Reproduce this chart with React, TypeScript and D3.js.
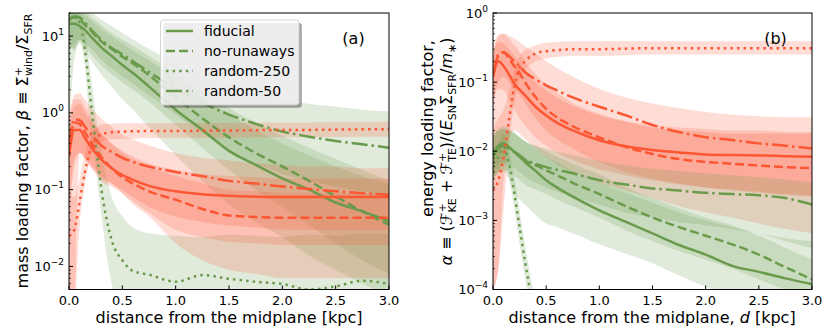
import React from 'react';
import * as d3 from 'd3';

// distance from the midplane [kpc]
const DIST = [0, 0.05, 0.1, 0.15, 0.2, 0.25, 0.3, 0.4, 0.5, 0.6, 0.75, 1.0, 1.25, 1.5, 1.75, 2.0, 2.25, 2.5, 2.75, 3.0];
const X_TICKS = [0, 0.5, 1, 1.5, 2, 2.5, 3];
const X_TICK_LABELS = ['0.0', '0.5', '1.0', '1.5', '2.0', '2.5', '3.0'];
const MODELS = ['fiducial', 'no-runaways', 'random-250', 'random-50'];
const A_Y_EXPS = [-2, -1, 0, 1];
const B_Y_EXPS = [-4, -3, -2, -1, 0];

// ---- (a) mass loading, cool (green)
const aCoolFid = [14.5, 14.5, 13.5, 12, 10, 8.5, 7.2, 5.5, 4.2, 3.3, 2.2, 1.1, 0.6, 0.32, 0.21, 0.14, 0.1, 0.068, 0.052, 0.039];
const aCoolFidLo = [8, 6.5, 8.5, 6.5, 5, 4, 3.2, 2.2, 1.5, 1.1, 0.65, 0.28, 0.13, 0.065, 0.038, 0.024, 0.014, 0.009, 0.006, 0.004];
const aCoolFidHi = [20, 22, 21, 19, 16.5, 14.5, 12.5, 10, 8, 6.5, 4.8, 2.8, 1.6, 0.95, 0.6, 0.4, 0.28, 0.2, 0.15, 0.12];
const aCoolNoRun = [17, 17.6, 16.5, 14, 12, 10, 8.6, 6.8, 5.4, 4.4, 3.1, 1.6, 0.85, 0.48, 0.3, 0.2, 0.13, 0.082, 0.052, 0.035];
const aCoolNoRunLo = [7, 7, 9, 7.5, 6, 5, 4.2, 3.2, 2.5, 2, 1.4, 0.7, 0.35, 0.18, 0.1, 0.06, 0.035, 0.02, 0.012, 0.008];
const aCoolNoRunHi = [23, 24, 23, 21, 18, 16, 14, 11, 9, 7.5, 5.5, 3.2, 1.9, 1.15, 0.75, 0.5, 0.35, 0.25, 0.18, 0.13];
const aCoolR250 = [16, 18, 15, 6.5, 1.6, 0.4, 0.11, 0.022, 0.012, 0.0087, 0.0078, 0.0063, 0.0077, 0.0069, 0.0063, 0.0059, 0.005, 0.0055, 0.0065, 0.0059];
const aCoolR250Lo = [0.5, 5, 8, 4, 0.6, 0.2, 0.05, 0.006, 0.003, 0.003, 0.003, 0.003, 0.003, 0.003, 0.003, 0.003, 0.003, 0.003, 0.003, 0.003];
const aCoolR250Hi = [20, 22, 20, 12, 3.5, 1, 0.35, 0.08, 0.045, 0.032, 0.027, 0.025, 0.024, 0.026, 0.025, 0.024, 0.026, 0.025, 0.027, 0.026];
const aCoolR50 = [16, 18, 17.5, 15, 12.5, 10.5, 9, 7, 5.8, 4.7, 3.4, 2.1, 1.35, 0.95, 0.72, 0.57, 0.49, 0.43, 0.39, 0.35];
const aCoolR50Lo = [7, 8, 9, 8, 7, 6, 5, 3.8, 3, 2.4, 1.7, 0.95, 0.55, 0.33, 0.22, 0.16, 0.13, 0.11, 0.095, 0.085];
const aCoolR50Hi = [24, 26, 26, 24, 21, 18.5, 16.5, 13.5, 11, 9, 6.8, 4.5, 3.1, 2.3, 1.8, 1.5, 1.3, 1.2, 1.1, 1.05];

// ---- (a) mass loading, hot (red)
const aHotFid = [0.27, 0.6, 0.6, 0.47, 0.37, 0.3, 0.25, 0.19, 0.155, 0.134, 0.112, 0.095, 0.087, 0.083, 0.081, 0.08, 0.08, 0.08, 0.08, 0.08];
const aHotFidLo = [0.05, 0.2, 0.3, 0.25, 0.2, 0.17, 0.14, 0.12, 0.1, 0.08, 0.06, 0.045, 0.038, 0.034, 0.032, 0.03, 0.03, 0.03, 0.03, 0.03];
const aHotFidHi = [0.6, 1.2, 1.3, 1.0, 0.8, 0.65, 0.53, 0.4, 0.32, 0.27, 0.22, 0.18, 0.16, 0.15, 0.145, 0.14, 0.14, 0.14, 0.14, 0.14];
const aHotNoRun = [0.35, 0.75, 0.72, 0.56, 0.43, 0.34, 0.27, 0.19, 0.145, 0.12, 0.095, 0.074, 0.056, 0.046, 0.044, 0.043, 0.043, 0.043, 0.043, 0.043];
const aHotNoRunLo = [0.06, 0.25, 0.3, 0.25, 0.2, 0.16, 0.13, 0.11, 0.09, 0.07, 0.05, 0.03, 0.024, 0.021, 0.02, 0.019, 0.019, 0.019, 0.019, 0.019];
const aHotNoRunHi = [0.8, 1.5, 1.5, 1.2, 0.9, 0.7, 0.55, 0.4, 0.3, 0.25, 0.2, 0.15, 0.12, 0.1, 0.095, 0.09, 0.09, 0.09, 0.09, 0.09];
const aHotR250 = [0.025, 0.03, 0.07, 0.17, 0.33, 0.45, 0.52, 0.56, 0.57, 0.575, 0.58, 0.58, 0.585, 0.59, 0.595, 0.6, 0.6, 0.605, 0.61, 0.61];
const aHotR250Lo = [0.002, 0.003, 0.035, 0.12, 0.25, 0.36, 0.42, 0.45, 0.46, 0.46, 0.47, 0.47, 0.47, 0.475, 0.48, 0.48, 0.48, 0.485, 0.49, 0.49];
const aHotR250Hi = [0.1, 0.08, 0.14, 0.3, 0.5, 0.62, 0.7, 0.72, 0.73, 0.73, 0.73, 0.73, 0.74, 0.74, 0.75, 0.75, 0.75, 0.76, 0.76, 0.77];
const aHotR50 = [0.4, 0.82, 0.8, 0.66, 0.54, 0.45, 0.38, 0.31, 0.26, 0.23, 0.2, 0.17, 0.15, 0.13, 0.12, 0.11, 0.102, 0.095, 0.09, 0.086];
const aHotR50Lo = [0.003, 0.004, 0.3, 0.28, 0.22, 0.18, 0.15, 0.12, 0.09, 0.065, 0.045, 0.02, 0.012, 0.009, 0.008, 0.007, 0.007, 0.007, 0.007, 0.007];
const aHotR50Hi = [0.9, 1.7, 1.8, 1.5, 1.2, 1.0, 0.85, 0.65, 0.52, 0.45, 0.38, 0.3, 0.26, 0.24, 0.22, 0.21, 0.2, 0.2, 0.19, 0.19];

// ---- (b) energy loading, hot (red)
const bHotFid = [0.12, 0.2, 0.17, 0.13, 0.095, 0.078, 0.065, 0.044, 0.033, 0.026, 0.02, 0.0144, 0.0118, 0.0104, 0.0096, 0.009, 0.0088, 0.0087, 0.0085, 0.0083];
const bHotFidLo = [0.05, 0.08, 0.076, 0.055, 0.04, 0.03, 0.024, 0.016, 0.012, 0.0095, 0.0075, 0.0055, 0.0045, 0.0038, 0.0033, 0.003, 0.0027, 0.0025, 0.0023, 0.0022];
const bHotFidHi = [0.25, 0.38, 0.36, 0.3, 0.24, 0.19, 0.15, 0.1, 0.075, 0.06, 0.045, 0.033, 0.027, 0.024, 0.022, 0.021, 0.02, 0.02, 0.019, 0.019];
const bHotNoRun = [0.12, 0.24, 0.27, 0.22, 0.17, 0.135, 0.1, 0.061, 0.041, 0.031, 0.023, 0.0158, 0.0115, 0.0091, 0.0077, 0.007, 0.0066, 0.0062, 0.0059, 0.0057];
const bHotNoRunLo = [0.05, 0.1, 0.12, 0.1, 0.08, 0.065, 0.05, 0.03, 0.02, 0.015, 0.011, 0.007, 0.005, 0.004, 0.0034, 0.003, 0.0028, 0.0026, 0.0024, 0.0023];
const bHotNoRunHi = [0.25, 0.45, 0.5, 0.42, 0.34, 0.27, 0.2, 0.13, 0.09, 0.07, 0.05, 0.035, 0.027, 0.022, 0.02, 0.019, 0.018, 0.018, 0.018, 0.018];
const bHotR250 = [0.0027, 0.0038, 0.0083, 0.028, 0.085, 0.16, 0.2, 0.26, 0.28, 0.29, 0.3, 0.3, 0.305, 0.31, 0.31, 0.31, 0.31, 0.31, 0.31, 0.31];
const bHotR250Lo = [0.0001, 0.0002, 0.0015, 0.012, 0.05, 0.11, 0.15, 0.2, 0.22, 0.23, 0.24, 0.24, 0.245, 0.25, 0.25, 0.25, 0.25, 0.25, 0.25, 0.25];
const bHotR250Hi = [0.02, 0.03, 0.04, 0.07, 0.15, 0.24, 0.29, 0.34, 0.37, 0.38, 0.39, 0.39, 0.39, 0.39, 0.39, 0.39, 0.39, 0.39, 0.39, 0.39];
const bHotR50 = [0.12, 0.25, 0.27, 0.24, 0.2, 0.17, 0.14, 0.11, 0.09, 0.076, 0.06, 0.044, 0.033, 0.024, 0.019, 0.016, 0.0145, 0.013, 0.012, 0.011];
const bHotR50Lo = [0.0001, 0.0002, 0.004, 0.015, 0.02, 0.018, 0.015, 0.011, 0.0083, 0.0065, 0.005, 0.0035, 0.0027, 0.0021, 0.0016, 0.0013, 0.0011, 0.0009, 0.00075, 0.00065];
const bHotR50Hi = [0.35, 0.48, 0.5, 0.47, 0.43, 0.38, 0.33, 0.26, 0.2, 0.16, 0.12, 0.08, 0.06, 0.049, 0.042, 0.037, 0.034, 0.032, 0.031, 0.031];

// ---- (b) energy loading, cool (green)
const bCoolFid = [0.0093, 0.012, 0.013, 0.0115, 0.0098, 0.0083, 0.007, 0.0052, 0.0038, 0.003, 0.0022, 0.0014, 0.00095, 0.00065, 0.00044, 0.00032, 0.00022, 0.00018, 0.000145, 0.00012];
const bCoolFidLo = [0.004, 0.005, 0.005, 0.004, 0.0025, 0.002, 0.0017, 0.0012, 0.0009, 0.0008, 0.00065, 0.00045, 0.00033, 0.00024, 0.00016, 0.00011, 0.00008, 0.00006, 0.00005, 0.00004];
const bCoolFidHi = [0.016, 0.02, 0.021, 0.02, 0.018, 0.016, 0.014, 0.011, 0.0085, 0.007, 0.0052, 0.0035, 0.0025, 0.0018, 0.0013, 0.001, 0.0008, 0.00065, 0.00055, 0.0005];
const bCoolNoRun = [0.0085, 0.011, 0.012, 0.011, 0.0098, 0.0086, 0.0074, 0.0063, 0.0053, 0.0045, 0.0035, 0.0024, 0.0016, 0.0011, 0.0008, 0.0006, 0.00045, 0.00032, 0.00021, 0.00014];
const bCoolNoRunLo = [0.0038, 0.005, 0.0054, 0.005, 0.0044, 0.0039, 0.0033, 0.0028, 0.0024, 0.002, 0.0016, 0.0011, 0.00072, 0.0005, 0.00036, 0.00027, 0.0002, 0.00014, 0.0001, 0.00007];
const bCoolNoRunHi = [0.016, 0.021, 0.023, 0.021, 0.019, 0.016, 0.014, 0.012, 0.01, 0.0085, 0.0066, 0.0046, 0.003, 0.0021, 0.0015, 0.0011, 0.00085, 0.0006, 0.0004, 0.00027];
const bCoolR250 = [0.0066, 0.0083, 0.0115, 0.0066, 0.0025, 0.0008, 0.00026, 0.00004, 0.00001, 0.00001, 0.00001, 0.00001, 0.00001, 0.00001, 0.00001, 0.00001, 0.00001, 0.00001, 0.00001, 0.00001];
const bCoolR250Lo = [0.004, 0.005, 0.007, 0.004, 0.0015, 0.00045, 0.00015, 0.00002, 0.000005, 0.000005, 0.000005, 0.000005, 0.000005, 0.000005, 0.000005, 0.000005, 0.000005, 0.000005, 0.000005, 0.000005];
const bCoolR250Hi = [0.011, 0.013, 0.018, 0.011, 0.0042, 0.0014, 0.00045, 0.00007, 0.00002, 0.00002, 0.00002, 0.00002, 0.00002, 0.00002, 0.00002, 0.00002, 0.00002, 0.00002, 0.00002, 0.00002];
const bCoolR50 = [0.0085, 0.011, 0.012, 0.011, 0.0098, 0.0088, 0.0076, 0.0066, 0.0059, 0.0054, 0.0048, 0.0038, 0.0033, 0.0029, 0.0027, 0.0025, 0.0024, 0.0023, 0.0021, 0.0017];
const bCoolR50Lo = [0.005, 0.0065, 0.007, 0.0065, 0.0058, 0.005, 0.0043, 0.0035, 0.003, 0.0026, 0.0022, 0.0017, 0.0013, 0.0011, 0.00095, 0.00085, 0.00075, 0.00065, 0.0005, 0.0004];
const bCoolR50Hi = [0.017, 0.02, 0.021, 0.02, 0.018, 0.016, 0.014, 0.012, 0.011, 0.0098, 0.0088, 0.0072, 0.0062, 0.0056, 0.0052, 0.0048, 0.0045, 0.0042, 0.0039, 0.0035];

const GREEN = '#6a9a4b';
const RED = '#fc5633';
const FONT = "'DejaVu Sans', sans-serif";
const DASHES: (string | undefined)[] = [undefined, '9,4', '2.5,4.1', '16,4,2.5,4'];

type Band = { lo: number[]; hi: number[]; color: string };
type Series = { values: number[]; color: string; dash?: string };

interface PanelProps {
  id: string;
  left: number; right: number; top: number; bottom: number;
  yDomain: [number, number];
  yExps: number[];
  bands: Band[];
  series: Series[];
}

function Panel(p: PanelProps) {
  const x = d3.scaleLinear().domain([0, 3]).range([p.left, p.right]);
  const y = d3.scaleLog().domain(p.yDomain).range([p.bottom, p.top]);
  const line = d3.line<number>().x((_, i) => x(DIST[i])).y((d) => y(d)).curve(d3.curveMonotoneX);
  const area = (b: Band) =>
    d3.area<number>()
      .x((_, i) => x(DIST[i]))
      .y0((_, i) => y(b.lo[i]))
      .y1((_, i) => y(b.hi[i]))
      .curve(d3.curveMonotoneX)(b.lo as number[]) || '';
  const minors: number[] = [];
  const e0 = Math.floor(Math.log10(p.yDomain[0]));
  const e1 = Math.ceil(Math.log10(p.yDomain[1]));
  for (let e = e0; e <= e1; e++) {
    for (let m = 2; m <= 9; m++) {
      const v = m * Math.pow(10, e);
      if (v >= p.yDomain[0] && v <= p.yDomain[1]) minors.push(v);
    }
  }
  return (
    <g>
      <defs>
        <clipPath id={p.id}>
          <rect x={p.left} y={p.top} width={p.right - p.left} height={p.bottom - p.top} />
        </clipPath>
      </defs>
      <g clipPath={`url(#${p.id})`}>
        {p.bands.map((b, i) => (
          <path key={'b' + i} d={area(b)} fill={b.color} fillOpacity={0.2} stroke="none" />
        ))}
        {p.series.map((s, i) => (
          <path key={'s' + i} d={line(s.values) || ''} fill="none" stroke={s.color}
            strokeWidth={2.5} strokeDasharray={s.dash} strokeLinejoin="round" />
        ))}
      </g>
      <rect x={p.left} y={p.top} width={p.right - p.left} height={p.bottom - p.top}
        fill="none" stroke="#000" strokeWidth={1} />
      {X_TICKS.map((t, i) => (
        <g key={'xt' + i}>
          <line x1={x(t)} x2={x(t)} y1={p.bottom} y2={p.bottom - 4} stroke="#000" strokeWidth={1} />
          <text x={x(t)} y={305} textAnchor="middle" fontSize={13} fontFamily={FONT}>{X_TICK_LABELS[i]}</text>
        </g>
      ))}
      {minors.map((v, i) => (
        <line key={'mn' + i} x1={p.left} x2={p.left + 2} y1={y(v)} y2={y(v)} stroke="#000" strokeWidth={0.7} />
      ))}
      {p.yExps.map((e, i) => {
        const yy = y(Math.pow(10, e));
        return (
          <g key={'yt' + i}>
            <line x1={p.left} x2={p.left + 4} y1={yy} y2={yy} stroke="#000" strokeWidth={1} />
            <text x={p.left - 5} y={yy + 4.5} textAnchor="end" fontSize={13} fontFamily={FONT}>
              10<tspan dy={-6} fontSize={9}>{e < 0 ? '\u2212' + Math.abs(e) : String(e)}</tspan>
            </text>
          </g>
        );
      })}
    </g>
  );
}

export default function App() {
  const aBands: Band[] = [
    { lo: aCoolR50Lo, hi: aCoolR50Hi, color: GREEN },
    { lo: aCoolNoRunLo, hi: aCoolNoRunHi, color: GREEN },
    { lo: aCoolFidLo, hi: aCoolFidHi, color: GREEN },
    { lo: aCoolR250Lo, hi: aCoolR250Hi, color: GREEN },
    { lo: aHotR50Lo, hi: aHotR50Hi, color: RED },
    { lo: aHotNoRunLo, hi: aHotNoRunHi, color: RED },
    { lo: aHotFidLo, hi: aHotFidHi, color: RED },
    { lo: aHotR250Lo, hi: aHotR250Hi, color: RED },
  ];
  const aSeries: Series[] = [
    { values: aCoolFid, color: GREEN, dash: DASHES[0] },
    { values: aCoolNoRun, color: GREEN, dash: DASHES[1] },
    { values: aCoolR250, color: GREEN, dash: DASHES[2] },
    { values: aCoolR50, color: GREEN, dash: DASHES[3] },
    { values: aHotFid, color: RED, dash: DASHES[0] },
    { values: aHotNoRun, color: RED, dash: DASHES[1] },
    { values: aHotR250, color: RED, dash: DASHES[2] },
    { values: aHotR50, color: RED, dash: DASHES[3] },
  ];
  const bBands: Band[] = [
    { lo: bHotR50Lo, hi: bHotR50Hi, color: RED },
    { lo: bHotNoRunLo, hi: bHotNoRunHi, color: RED },
    { lo: bHotFidLo, hi: bHotFidHi, color: RED },
    { lo: bHotR250Lo, hi: bHotR250Hi, color: RED },
    { lo: bCoolR50Lo, hi: bCoolR50Hi, color: GREEN },
    { lo: bCoolNoRunLo, hi: bCoolNoRunHi, color: GREEN },
    { lo: bCoolFidLo, hi: bCoolFidHi, color: GREEN },
    { lo: bCoolR250Lo, hi: bCoolR250Hi, color: GREEN },
  ];
  const bSeries: Series[] = [
    { values: bCoolFid, color: GREEN, dash: DASHES[0] },
    { values: bCoolNoRun, color: GREEN, dash: DASHES[1] },
    { values: bCoolR250, color: GREEN, dash: DASHES[2] },
    { values: bCoolR50, color: GREEN, dash: DASHES[3] },
    { values: bHotFid, color: RED, dash: DASHES[0] },
    { values: bHotNoRun, color: RED, dash: DASHES[1] },
    { values: bHotR250, color: RED, dash: DASHES[2] },
    { values: bHotR50, color: RED, dash: DASHES[3] },
  ];
  const legX = 160.5, legY = 20, legW = 138.5, legH = 85;
  return (
    <svg width={830} height={335} style={{ position: 'absolute', left: 0, top: 0, background: '#fff' }}
      fontFamily={FONT}>
      <Panel id="clipA" left={69} right={389} top={13} bottom={289.5} yDomain={[0.005, 20]}
        yExps={A_Y_EXPS} bands={aBands} series={aSeries} />
      <Panel id="clipB" left={493} right={812} top={13} bottom={289.5} yDomain={[1e-4, 1]}
        yExps={B_Y_EXPS} bands={bBands} series={bSeries} />

      {/* legend */}
      <rect x={legX + 2.8} y={legY + 2.8} width={legW} height={legH} rx={3} fill="#4d4d4d" fillOpacity={0.5} />
      <rect x={legX} y={legY} width={legW} height={legH} rx={3} fill="#fff" fillOpacity={0.8}
        stroke="#cccccc" strokeOpacity={0.8} strokeWidth={1} />
      {MODELS.map((m, i) => (
        <g key={m}>
          <line x1={166} x2={193} y1={31 + i * 20} y2={31 + i * 20} stroke={GREEN} strokeWidth={2.5}
            strokeDasharray={DASHES[i === 2 ? 2 : i === 3 ? 3 : i]} />
          <text x={204} y={36 + i * 20} fontSize={14} fill="#000">{m}</text>
        </g>
      ))}

      <text x={353.5} y={44} textAnchor="middle" fontSize={16}>(a)</text>
      <text x={775.5} y={44} textAnchor="middle" fontSize={16}>(b)</text>

      {/* axis labels */}
      <text x={229} y={323} textAnchor="middle" fontSize={16}>distance from the midplane [kpc]</text>
      <text x={652} y={323} textAnchor="middle" fontSize={16}>
        distance from the midplane, <tspan fontStyle="italic">d</tspan> [kpc]
      </text>

      <text transform="translate(28,151) rotate(-90)" textAnchor="middle" fontSize={16}>
        mass loading factor, <tspan fontStyle="italic">β</tspan> ≡ Σ̇
        <tspan dy={-6} fontSize={11}>+</tspan>
        <tspan dx={-9} dy={10} fontSize={11}>wind</tspan>
        <tspan dy={-4}>/Σ</tspan>
        <tspan dy={4} fontSize={11}>SFR</tspan>
      </text>

      <text transform="translate(433,128.5) rotate(-90)" textAnchor="middle" fontSize={16}>
        energy loading factor,
      </text>
      <text transform="translate(452,151.5) rotate(-90)" textAnchor="middle" fontSize={16}>
        <tspan fontStyle="italic">α</tspan> ≡ (<tspan fontStyle="italic">ℱ</tspan>
        <tspan dy={-6} fontSize={11}>+</tspan>
        <tspan dx={-9} dy={10} fontSize={11}>KE</tspan>
        <tspan dy={-4}> + </tspan>
        <tspan fontStyle="italic">ℱ</tspan>
        <tspan dy={-6} fontSize={11}>+</tspan>
        <tspan dx={-9} dy={10} fontSize={11}>TE</tspan>
        <tspan dy={-4}>)/(</tspan>
        <tspan fontStyle="italic">E</tspan>
        <tspan dy={4} fontSize={11}>SN</tspan>
        <tspan dy={-4}>Σ</tspan>
        <tspan dy={4} fontSize={11}>SFR</tspan>
        <tspan dy={-4}>/</tspan>
        <tspan fontStyle="italic">m</tspan>
        <tspan dy={4} fontSize={11}>∗</tspan>
        <tspan dy={-4}>)</tspan>
      </text>
    </svg>
  );
}
